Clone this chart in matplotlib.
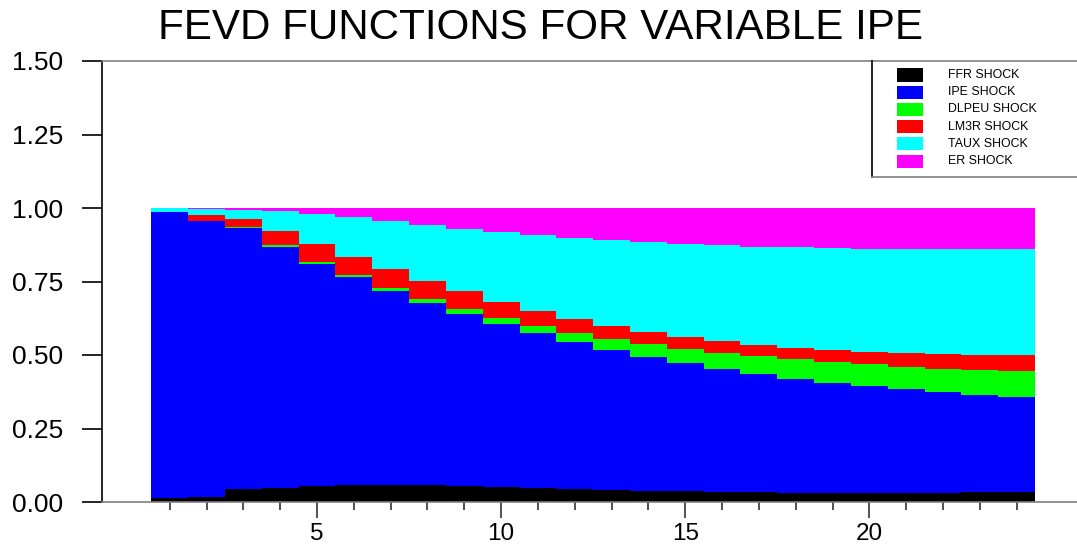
import matplotlib
matplotlib.use("Agg")
import matplotlib.pyplot as plt
from matplotlib.patches import Rectangle
from matplotlib.lines import Line2D
import numpy as np

plt.rcParams['font.family'] = ['Liberation Sans', 'DejaVu Sans']

title = "FEVD FUNCTIONS FOR VARIABLE IPE"
periods = list(range(1, 25))
labels = ["FFR SHOCK", "IPE SHOCK", "DLPEU SHOCK", "LM3R SHOCK", "TAUX SHOCK", "ER SHOCK"]
colors = ["#000000", "#0000ff", "#00ff00", "#ff0000", "#00ffff", "#ff00ff"]

ffr = [0.013, 0.016, 0.043, 0.049, 0.053, 0.057, 0.058, 0.057, 0.054, 0.052, 0.047, 0.045,
       0.041, 0.038, 0.036, 0.033, 0.033, 0.030, 0.030, 0.030, 0.030, 0.031, 0.033, 0.035]
ipe = [0.973, 0.939, 0.888, 0.820, 0.756, 0.708, 0.660, 0.620, 0.584, 0.552, 0.527, 0.499,
       0.476, 0.455, 0.437, 0.421, 0.404, 0.390, 0.376, 0.364, 0.353, 0.343, 0.331, 0.323]
dlpeu = [0.000, 0.000, 0.003, 0.004, 0.006, 0.006, 0.009, 0.012, 0.017, 0.021, 0.025, 0.032,
         0.038, 0.043, 0.048, 0.053, 0.059, 0.066, 0.069, 0.074, 0.077, 0.080, 0.085, 0.086]
lm3r = [0.000, 0.020, 0.027, 0.049, 0.062, 0.064, 0.067, 0.064, 0.061, 0.056, 0.052, 0.046,
        0.044, 0.041, 0.039, 0.040, 0.037, 0.037, 0.041, 0.041, 0.046, 0.049, 0.051, 0.056]
taux = [0.014, 0.021, 0.033, 0.067, 0.101, 0.133, 0.161, 0.190, 0.214, 0.239, 0.258, 0.277,
        0.292, 0.307, 0.318, 0.326, 0.335, 0.343, 0.348, 0.352, 0.354, 0.357, 0.360, 0.360]
er = [0.000, 0.004, 0.006, 0.011, 0.022, 0.032, 0.045, 0.057, 0.070, 0.080, 0.091, 0.101,
      0.109, 0.116, 0.122, 0.127, 0.132, 0.134, 0.136, 0.139, 0.140, 0.140, 0.140, 0.140]
series = [ffr, ipe, dlpeu, lm3r, taux, er]

W, H = 1077, 546
fig = plt.figure(figsize=(W / 100, H / 100), dpi=100)
ax = fig.add_axes([102 / W, (H - 502) / H, (W - 102) / W, (502 - 61) / H])

bottom = np.zeros(len(periods))
for vals, col in zip(series, colors):
    ax.bar(periods, vals, width=1.0, bottom=bottom, color=col, linewidth=0, align='center')
    bottom += np.array(vals)

ax.set_xlim(-0.84, 25.64)
ax.set_ylim(0, 1.5)

gray = '#808080'
ax.spines['right'].set_visible(False)
ax.spines['top'].set_color(gray)
ax.spines['bottom'].set_color(gray)
ax.spines['left'].set_color('black')
for s in ax.spines.values():
    s.set_linewidth(1.2)

ax.set_yticks([0, 0.25, 0.5, 0.75, 1.0, 1.25, 1.5])
ax.set_yticklabels(["0.00", "0.25", "0.50", "0.75", "1.00", "1.25", "1.50"])
ax.tick_params(axis='y', direction='out', length=14.4, width=1.2, pad=13.5, labelsize=19, colors='black')
yt = ax.yaxis.get_major_ticks()
yt[0].tick1line.set_color(gray)
yt[-1].tick1line.set_color(gray)

ax.set_xticks([5, 10, 15, 20])
ax.set_xticks(periods, minor=True)
ax.tick_params(axis='x', which='major', direction='out', length=11.5, width=1.2, pad=3.5, labelsize=17.5, color='#333333')
ax.tick_params(axis='x', which='minor', direction='out', length=5.8, width=1.2, color='#333333')

fig.text(540 / W, 1 - 28 / H, title, ha='center', va='center', fontsize=30.3)

# legend box
fig.add_artist(Line2D([872 / W, 872 / W], [1 - 61 / H, 1 - 177 / H], color='black', lw=1.2))
fig.add_artist(Line2D([872 / W, 1.0], [1 - 177 / H, 1 - 177 / H], color=gray, lw=1.2))
for i, (lab, col) in enumerate(zip(labels, colors)):
    yc = 75 + 17.2 * i
    fig.add_artist(Rectangle((897 / W, 1 - (yc + 6.5) / H), 26 / W, 13 / H, facecolor=col, edgecolor='none'))
    fig.text(948 / W, 1 - yc / H, lab, ha='left', va='center', fontsize=8.9)

fig.savefig("out.png", dpi=100)
